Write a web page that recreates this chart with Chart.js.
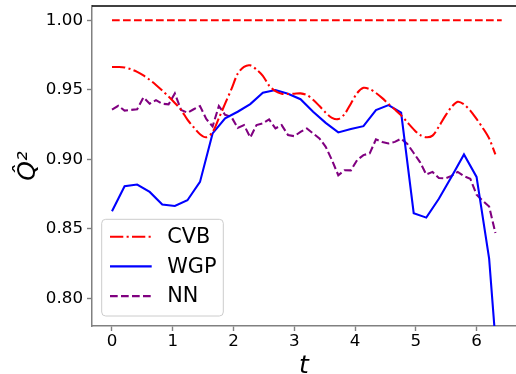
<!DOCTYPE html>
<html>
<head>
<meta charset="utf-8">
<script src="https://cdn.jsdelivr.net/npm/chart.js@4.4.1/dist/chart.umd.min.js"></script>
<style>
  html, body { margin: 0; padding: 0; background: #fff; }
  #wrap { width: 516px; height: 374px; }
</style>
</head>
<body>
<div id="wrap"><canvas id="chart" width="516" height="374"></canvas></div>
<script>
// time grids
const tCoarse = [0, 0.207, 0.414, 0.620, 0.827, 1.034, 1.241, 1.448, 1.655, 1.861,
  2.068, 2.275, 2.482, 2.689, 2.896, 3.102, 3.309, 3.516, 3.723, 3.930,
  4.137, 4.343, 4.550, 4.757, 4.964, 5.171, 5.378, 5.584, 5.791, 5.998,
  6.205, 6.412];
const tFine = [0, 0.103, 0.207, 0.310, 0.414, 0.517, 0.620, 0.724, 0.827, 0.931,
  1.034, 1.137, 1.241, 1.344, 1.448, 1.551, 1.655, 1.758, 1.861, 1.965,
  2.068, 2.172, 2.275, 2.378, 2.482, 2.585, 2.689, 2.792, 2.896, 2.999,
  3.102, 3.206, 3.309, 3.413, 3.516, 3.619, 3.723, 3.826, 3.930, 4.033,
  4.137, 4.240, 4.343, 4.447, 4.550, 4.654, 4.757, 4.860, 4.964, 5.067,
  5.171, 5.274, 5.378, 5.481, 5.584, 5.688, 5.791, 5.895, 5.998, 6.101,
  6.205, 6.308];

// Q^2 per method
const cvb = [0.9664, 0.9664, 0.9661, 0.9648, 0.9629, 0.9603, 0.9572, 0.9535, 0.9494, 0.9451,
  0.9405, 0.9355, 0.9285, 0.9230, 0.9180, 0.9158, 0.9195, 0.9295, 0.9400, 0.9505,
  0.9615, 0.9665, 0.9676, 0.9645, 0.9600, 0.9530, 0.9490, 0.9472, 0.9470, 0.9472,
  0.9474, 0.9462, 0.9428, 0.9383, 0.9335, 0.9298, 0.9289, 0.9325, 0.9400, 0.9476,
  0.9514, 0.9505, 0.9477, 0.9440, 0.9398, 0.9358, 0.9316, 0.9265, 0.9215, 0.9175,
  0.9158, 0.9170, 0.9235, 0.9310, 0.9375, 0.9414, 0.9395, 0.9350, 0.9290, 0.9225,
  0.9150, 0.9035];
const wgp = [0.8626, 0.8806, 0.8818, 0.8765, 0.8674, 0.8664, 0.8705, 0.8837, 0.9186, 0.9294,
  0.9342, 0.9397, 0.9479, 0.9498, 0.9472, 0.9432, 0.9342, 0.9262, 0.9193, 0.9217,
  0.9238, 0.9354, 0.9390, 0.9335, 0.8612, 0.8580, 0.8716, 0.8873, 0.9035, 0.8873,
  0.8285, 0.7110];
const nn = [0.9358, 0.9385, 0.9350, 0.9355, 0.9360, 0.9445, 0.9400, 0.9425, 0.9400, 0.9395,
  0.9474, 0.9355, 0.9335, 0.9360, 0.9383, 0.9290, 0.9236, 0.9383, 0.9320, 0.9305,
  0.9225, 0.9246, 0.9157, 0.9246, 0.9258, 0.9287, 0.9222, 0.9246, 0.9174, 0.9166,
  0.9197, 0.9222, 0.9186, 0.9150, 0.9090, 0.8994, 0.8885, 0.8921, 0.8920, 0.8994,
  0.9030, 0.9042, 0.9143, 0.9125, 0.9114, 0.9125, 0.9148, 0.9110, 0.9045, 0.8980,
  0.8890, 0.8909, 0.8865, 0.8862, 0.8880, 0.8909, 0.8878, 0.8860, 0.8745, 0.8700,
  0.8660, 0.8470];
const refT = [0, 6.412];
const refQ = [1.0, 1.0];

const xTicks = [0, 1, 2, 3, 4, 5, 6];
const yTicks = [0.80, 0.85, 0.90, 0.95, 1.00];

const pts = (ts, ys) => ts.map((t, i) => ({ x: t, y: ys[i] }));
const FONT = 'DejaVu Sans';

// boxed legend in the lower-left corner of the plot
const legendBox = {
  id: 'legendBox',
  afterDatasetsDraw(chart) {
    const { ctx, chartArea } = chart;
    const x0 = chartArea.left + 9.7, y0 = chartArea.bottom - 106.7;
    const w = 121.6, h = 96.7, r = 4;
    ctx.save();
    ctx.beginPath();
    ctx.moveTo(x0 + r, y0);
    ctx.arcTo(x0 + w, y0, x0 + w, y0 + h, r);
    ctx.arcTo(x0 + w, y0 + h, x0, y0 + h, r);
    ctx.arcTo(x0, y0 + h, x0, y0, r);
    ctx.arcTo(x0, y0, x0 + w, y0, r);
    ctx.closePath();
    ctx.fillStyle = 'rgba(255,255,255,0.8)';
    ctx.fill();
    ctx.strokeStyle = '#cccccc';
    ctx.lineWidth = 1;
    ctx.stroke();

    const items = chart.data.datasets.filter(d => d.label);
    items.forEach((d, i) => {
      const cy = y0 + 17.4 + i * 29.7;
      ctx.beginPath();
      ctx.setLineDash(d.borderDash || []);
      ctx.strokeStyle = d.borderColor;
      ctx.lineWidth = d.borderWidth;
      ctx.moveTo(x0 + 8.3, cy);
      ctx.lineTo(x0 + 50, cy);
      ctx.stroke();
      ctx.setLineDash([]);
      ctx.fillStyle = '#000';
      ctx.font = '20.8px "' + FONT + '"';
      ctx.textBaseline = 'middle';
      ctx.fillText(d.label, x0 + 65.6, cy + 1);
    });
    ctx.restore();
  }
};

// black top spine
const topSpine = {
  id: 'topSpine',
  afterDraw(chart) {
    const { ctx, chartArea } = chart;
    ctx.save();
    ctx.strokeStyle = '#000';
    ctx.lineWidth = 1.5;
    ctx.beginPath();
    ctx.moveTo(chartArea.left, chartArea.top);
    ctx.lineTo(chartArea.right, chartArea.top);
    ctx.stroke();
    ctx.restore();
  }
};

new Chart(document.getElementById('chart'), {
  type: 'line',
  data: {
    datasets: [
      { label: '', data: pts(refT, refQ), borderColor: '#ff0000', borderWidth: 2.08, borderDash: [7.7, 3.3] },
      { label: 'CVB', data: pts(tFine, cvb), borderColor: '#ff0000', borderWidth: 2.08, borderDash: [13.3, 3.3, 2.1, 3.3], tension: 0.3 },
      { label: 'WGP', data: pts(tCoarse, wgp), borderColor: '#0000ff', borderWidth: 2.08 },
      { label: 'NN', data: pts(tFine, nn), borderColor: '#800080', borderWidth: 2.08, borderDash: [7.7, 3.3] }
    ]
  },
  options: {
    responsive: false,
    animation: false,
    devicePixelRatio: 1,
    layout: { padding: { top: 6, left: 0, right: 0, bottom: 0 } },
    elements: { point: { radius: 0 }, line: { fill: false } },
    plugins: { legend: { display: false }, tooltip: { enabled: false } },
    scales: {
      x: {
        type: 'linear',
        min: -0.329,
        max: 6.647,
        afterBuildTicks: s => { s.ticks = xTicks.map(v => ({ value: v })); },
        afterFit: s => { s.height = 48; s.paddingLeft = 0; s.paddingRight = 0; },
        border: { color: '#808080', width: 1.5 },
        grid: { drawOnChartArea: false, drawTicks: true, tickLength: 5, tickColor: '#808080', tickWidth: 1.4 },
        ticks: { color: '#000', font: { family: FONT, size: 16.7 }, padding: 1, maxRotation: 0, autoSkip: false },
        title: { display: true, text: 't', color: '#000', font: { family: FONT, size: 25, style: 'italic', lineHeight: 1 }, padding: { top: 0, bottom: -4.5 } }
      },
      y: {
        min: 0.78,
        max: 1.0103,
        afterBuildTicks: s => { s.ticks = yTicks.map(v => ({ value: v })); },
        afterFit: s => { s.width = 92; s.paddingTop = 0; s.paddingBottom = 0; },
        border: { color: '#808080', width: 1.5 },
        grid: { drawOnChartArea: false, drawTicks: true, tickLength: 5, tickColor: '#808080', tickWidth: 1.4 },
        ticks: { color: '#000', font: { family: FONT, size: 16.7 }, padding: 4, callback: v => v.toFixed(2) },
        title: { display: true, text: 'Q\u0302\u00B2', color: '#000', font: { family: FONT, size: 25, style: 'italic', lineHeight: 1 }, padding: { top: 15.5, bottom: 0 } }
      }
    }
  },
  plugins: [legendBox, topSpine]
});
</script>
</body>
</html>
